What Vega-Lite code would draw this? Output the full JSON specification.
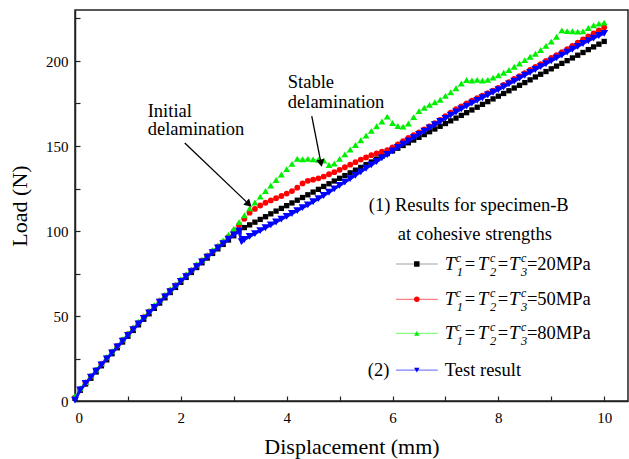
{
"$schema": "https://vega.github.io/schema/vega-lite/v6.json",
"width": 553, "height": 391,
"autosize": {"type": "none"},
"padding": {"left": 75, "top": 10, "right": 1, "bottom": 58},
"background": "white",
"config": {
 "view": {"stroke": "#222", "strokeWidth": 1.5},
 "font": "Liberation Serif, Times New Roman, DejaVu Serif, serif",
 "text": {"font": "Liberation Serif, Times New Roman, DejaVu Serif, serif"},
 "axis": {"domainColor": "#222", "domainWidth": 1.5, "tickColor": "#222", "tickWidth": 1.2, "tickSize": -5, "labelFont": "Liberation Serif, Times New Roman, DejaVu Serif, serif", "labelFontSize": 15, "labelColor": "#000", "titleFont": "Liberation Serif, Times New Roman, DejaVu Serif, serif", "titleFontSize": 22, "titleFontWeight": "normal", "titleColor": "#000", "grid": false}
},
"datasets": {
 "curves": [
  {"x":0,"a":1.5,"b":2,"c":3,"t":0.5},
  {"x":0.1,"a":6.3,"b":7.0,"c":7.5,"t":6.5},
  {"x":0.2,"a":10.0,"b":10.8,"c":11.2,"t":10.3},
  {"x":0.3,"a":13.4,"b":14.5,"c":14.9,"t":14.0},
  {"x":0.4,"a":17.1,"b":18.2,"c":18.6,"t":17.6},
  {"x":0.5,"a":20.7,"b":21.8,"c":22.2,"t":21.2},
  {"x":0.6,"a":24.2,"b":25.4,"c":25.8,"t":24.8},
  {"x":0.7,"a":27.8,"b":28.9,"c":29.4,"t":28.3},
  {"x":0.8,"a":31.3,"b":32.4,"c":32.9,"t":31.8},
  {"x":0.9,"a":34.7,"b":35.9,"c":36.3,"t":35.2},
  {"x":1.0,"a":38.1,"b":39.3,"c":39.8,"t":38.6},
  {"x":1.1,"a":41.5,"b":42.7,"c":43.2,"t":42.0},
  {"x":1.2,"a":44.8,"b":46.0,"c":46.6,"t":45.3},
  {"x":1.3,"a":48.1,"b":49.3,"c":49.9,"t":48.6},
  {"x":1.4,"a":51.3,"b":52.5,"c":53.1,"t":51.8},
  {"x":1.5,"a":54.5,"b":55.7,"c":56.3,"t":55.0},
  {"x":1.6,"a":57.6,"b":58.8,"c":59.4,"t":58.1},
  {"x":1.7,"a":60.7,"b":61.9,"c":62.5,"t":61.2},
  {"x":1.8,"a":63.8,"b":65.0,"c":65.6,"t":64.3},
  {"x":1.9,"a":66.8,"b":68.0,"c":68.6,"t":67.3},
  {"x":2.0,"a":69.8,"b":71.0,"c":71.6,"t":70.3},
  {"x":2.1,"a":72.7,"b":73.9,"c":74.5,"t":73.2},
  {"x":2.2,"a":75.6,"b":76.8,"c":77.4,"t":76.1},
  {"x":2.3,"a":78.5,"b":79.7,"c":80.3,"t":79.0},
  {"x":2.4,"a":81.3,"b":82.5,"c":83.1,"t":81.8},
  {"x":2.5,"a":84.1,"b":85.3,"c":85.9,"t":84.6},
  {"x":2.6,"a":86.8,"b":88.0,"c":88.7,"t":87.3},
  {"x":2.7,"a":89.5,"b":90.8,"c":91.5,"t":90.0},
  {"x":2.8,"a":92.1,"b":93.5,"c":94.5,"t":92.6},
  {"x":2.9,"a":94.7,"b":96.5,"c":97.8,"t":95.2},
  {"x":3.0,"a":97.2,"b":99.8,"c":101.3,"t":97.7},
  {"x":3.1,"a":99.7,"b":103.4,"c":105.2,"t":100.0},
  {"x":3.15,"t":93.7},
  {"x":3.2,"a":102.0,"b":107.2,"c":109.3,"t":95.0},
  {"x":3.3,"a":103.6,"b":110.8,"c":113.3,"t":96.8},
  {"x":3.4,"a":105.2,"b":113.0,"c":116.8,"t":98.5},
  {"x":3.5,"a":106.8,"b":115.0,"c":120.2,"t":100.2},
  {"x":3.6,"a":108.4,"b":116.6,"c":123.5,"t":101.9},
  {"x":3.7,"a":110.1,"b":118.0,"c":126.8,"t":103.6},
  {"x":3.8,"a":111.7,"b":119.3,"c":130.0,"t":105.3},
  {"x":3.9,"a":113.3,"b":120.6,"c":133.2,"t":107.0},
  {"x":4.0,"a":114.9,"b":122.0,"c":136.4,"t":108.6},
  {"x":4.1,"a":116.5,"b":123.5,"c":139.5,"t":110.3},
  {"x":4.2,"a":118.1,"b":125.5,"c":142.5,"t":112.0},
  {"x":4.3,"a":119.7,"b":128.0,"c":142.2,"t":113.7},
  {"x":4.4,"a":121.3,"b":129.5,"c":142.4,"t":115.4},
  {"x":4.5,"a":122.9,"b":130.2,"c":142.1,"t":117.2},
  {"x":4.6,"a":124.5,"b":131.0,"c":141.9,"t":119.0},
  {"x":4.7,"a":126.2,"b":132.0,"c":141.5,"t":120.9},
  {"x":4.8,"a":127.8,"b":133.4,"c":138.8,"t":122.8},
  {"x":4.9,"a":129.4,"b":134.6,"c":139.6,"t":124.8},
  {"x":5.0,"a":131.0,"b":136.0,"c":142.4,"t":126.8},
  {"x":5.1,"a":132.6,"b":137.5,"c":145.1,"t":128.8},
  {"x":5.2,"a":134.2,"b":139.0,"c":147.9,"t":130.8},
  {"x":5.3,"a":135.8,"b":140.5,"c":150.6,"t":132.8},
  {"x":5.4,"a":137.4,"b":142.0,"c":153.4,"t":134.8},
  {"x":5.5,"a":139.0,"b":143.3,"c":156.1,"t":136.9},
  {"x":5.6,"a":140.6,"b":144.6,"c":158.9,"t":138.9},
  {"x":5.7,"a":142.3,"b":145.6,"c":161.6,"t":140.9},
  {"x":5.8,"a":143.9,"b":146.6,"c":164.4,"t":143.0},
  {"x":5.9,"a":145.5,"b":147.6,"c":167.3,"t":145.0},
  {"x":6.0,"a":147.1,"b":149.2,"c":163.5,"t":147.1},
  {"x":6.1,"a":148.7,"b":151.0,"c":161.8,"t":149.1},
  {"x":6.2,"a":150.3,"b":152.9,"c":161.4,"t":151.1},
  {"x":6.3,"a":151.9,"b":154.7,"c":163.2,"t":153.0},
  {"x":6.4,"a":153.5,"b":156.4,"c":167.0,"t":154.9},
  {"x":6.5,"a":155.1,"b":158.0,"c":170.5,"t":156.8},
  {"x":6.6,"a":156.7,"b":159.7,"c":172.5,"t":158.7},
  {"x":6.7,"a":158.4,"b":161.5,"c":174.2,"t":160.6},
  {"x":6.8,"a":160.0,"b":163.4,"c":175.7,"t":162.5},
  {"x":6.9,"a":161.6,"b":165.4,"c":177.2,"t":164.4},
  {"x":7.0,"a":163.2,"b":167.5,"c":179.5,"t":166.3},
  {"x":7.1,"a":164.8,"b":169.6,"c":181.6,"t":168.2},
  {"x":7.2,"a":166.4,"b":171.6,"c":184.0,"t":170.0},
  {"x":7.3,"a":168.0,"b":173.3,"c":186.8,"t":171.8},
  {"x":7.4,"a":169.6,"b":175.0,"c":188.8,"t":173.5},
  {"x":7.5,"a":171.2,"b":176.6,"c":188.5,"t":175.2},
  {"x":7.6,"a":172.8,"b":178.1,"c":188.9,"t":176.8},
  {"x":7.7,"a":174.5,"b":179.6,"c":188.5,"t":178.4},
  {"x":7.8,"a":176.1,"b":181.1,"c":188.9,"t":180.0},
  {"x":7.9,"a":177.7,"b":182.6,"c":190.2,"t":181.6},
  {"x":8.0,"a":179.3,"b":184.2,"c":191.6,"t":183.2},
  {"x":8.1,"a":180.9,"b":185.9,"c":193.1,"t":184.8},
  {"x":8.2,"a":182.5,"b":187.6,"c":194.7,"t":186.5},
  {"x":8.3,"a":184.1,"b":189.4,"c":196.6,"t":188.2},
  {"x":8.4,"a":185.7,"b":191.1,"c":198.5,"t":189.9},
  {"x":8.5,"a":187.3,"b":192.9,"c":200.5,"t":191.6},
  {"x":8.6,"a":188.9,"b":194.7,"c":202.5,"t":193.3},
  {"x":8.7,"a":190.6,"b":196.5,"c":204.3,"t":195.0},
  {"x":8.8,"a":192.2,"b":198.2,"c":206.5,"t":196.7},
  {"x":8.9,"a":193.8,"b":200.0,"c":208.9,"t":198.4},
  {"x":9.0,"a":195.4,"b":201.8,"c":211.4,"t":200.1},
  {"x":9.1,"a":197.0,"b":203.5,"c":214.3,"t":201.8},
  {"x":9.2,"a":198.6,"b":205.2,"c":218.0,"t":203.5},
  {"x":9.3,"a":200.2,"b":207.0,"c":217.6,"t":205.2},
  {"x":9.4,"a":201.8,"b":208.9,"c":217.5,"t":206.9},
  {"x":9.5,"a":203.4,"b":210.8,"c":217.3,"t":208.6},
  {"x":9.6,"a":205.0,"b":212.7,"c":217.4,"t":210.3},
  {"x":9.7,"a":206.7,"b":214.5,"c":219.4,"t":211.9},
  {"x":9.8,"a":208.3,"b":216.3,"c":221.0,"t":213.5},
  {"x":9.9,"a":209.9,"b":218.0,"c":222.0,"t":215.0},
  {"x":10.0,"a":211.5,"b":219.8,"c":222.6,"t":216.3}
 ],
 "legendRows": [
  {"s":"a","x":6.068,"x2":6.856,"xm":6.459,"y":80.6},
  {"s":"b","x":6.068,"x2":6.856,"xm":6.459,"y":59.8},
  {"s":"c","x":6.068,"x2":6.856,"xm":6.459,"y":39.8},
  {"s":"t","x":6.068,"x2":6.856,"xm":6.459,"y":18.2}
 ],
 "plainText": [
  {"x":1.374,"y":167.2,"text":"Initial"},
  {"x":1.374,"y":156.5,"text":"delamination"},
  {"x":4.021,"y":183.9,"text":"Stable"},
  {"x":4.021,"y":172.5,"text":"delamination"},
  {"x":5.552,"y":111.8,"text":"(1) Results for specimen-B"},
  {"x":6.1,"y":94.7,"text":"at cohesive strengths"},
  {"x":7.367,"y":77.06,"text":"="},
  {"x":7.991,"y":77.06,"text":"="},
  {"x":8.540,"y":77.06,"text":"=20MPa"},
  {"x":7.367,"y":56.29,"text":"="},
  {"x":7.991,"y":56.29,"text":"="},
  {"x":8.540,"y":56.29,"text":"=50MPa"},
  {"x":7.367,"y":36.29,"text":"="},
  {"x":7.991,"y":36.29,"text":"="},
  {"x":8.540,"y":36.29,"text":"=80MPa"},
  {"x":5.533,"y":14.7,"text":"(2)"},
  {"x":6.988,"y":14.7,"text":"Test result"}
 ],
 "italicT": [
  {"x":6.988,"y":77.06,"text":"T"},{"x":7.613,"y":77.06,"text":"T"},{"x":8.199,"y":77.06,"text":"T"},
  {"x":6.988,"y":56.29,"text":"T"},{"x":7.613,"y":56.29,"text":"T"},{"x":8.199,"y":56.29,"text":"T"},
  {"x":6.988,"y":36.29,"text":"T"},{"x":7.613,"y":36.29,"text":"T"},{"x":8.199,"y":36.29,"text":"T"}
 ],
 "supC": [
  {"x":7.196,"y":81.76,"text":"c"},{"x":7.840,"y":81.76,"text":"c"},{"x":8.426,"y":81.76,"text":"c"},
  {"x":7.196,"y":61.0,"text":"c"},{"x":7.840,"y":61.0,"text":"c"},{"x":8.426,"y":61.0,"text":"c"},
  {"x":7.196,"y":41.0,"text":"c"},{"x":7.840,"y":41.0,"text":"c"},{"x":8.426,"y":41.0,"text":"c"}
 ],
 "subD": [
  {"x":7.215,"y":73.53,"text":"1"},{"x":7.840,"y":73.53,"text":"2"},{"x":8.426,"y":73.53,"text":"3"},
  {"x":7.215,"y":52.76,"text":"1"},{"x":7.840,"y":52.76,"text":"2"},{"x":8.426,"y":52.76,"text":"3"},
  {"x":7.215,"y":32.76,"text":"1"},{"x":7.840,"y":32.76,"text":"2"},{"x":8.426,"y":32.76,"text":"3"}
 ],
 "arrows": [
  {"x":2.074,"y":151.8,"x2":3.285,"y2":115.8},
  {"x":4.474,"y":167.6,"x2":4.649,"y2":139.9}
 ],
 "head1": [{"x":3.285,"y":115.8}],
 "head2": [{"x":4.649,"y":139.9}]
},
"layer": [
 {
  "data": {"name": "curves"},
  "transform": [{"fold": ["a","b","c"], "as": ["s","y"]}, {"filter": "isValid(datum.y)"}],
  "mark": {"type": "line", "strokeWidth": 1},
  "encoding": {
   "x": {"field": "x", "type": "quantitative", "scale": {"domain": [0, 10.45], "nice": false, "zero": false},
         "axis": {"title": "Displacement (mm)", "values": [0,1,2,3,4,5,6,7,8,9,10], "labelExpr": "datum.value % 2 === 0 ? datum.label : ''", "labelPadding": 14, "titlePadding": 11}},
   "y": {"field": "y", "type": "quantitative", "scale": {"domain": [0, 230], "nice": false},
         "axis": {"title": "Load (N)", "values": [0,25,50,75,100,125,150,175,200,225], "labelExpr": "datum.value % 50 === 0 ? datum.label : ''", "labelPadding": 12, "titlePadding": 14}},
   "color": {"field": "s", "type": "nominal", "legend": null, "scale": {"domain": ["a","b","c"], "range": ["#a0a0a0","#ff8080","#80ff80"]}}
  }
 },
 {
  "data": {"name": "curves"},
  "transform": [{"fold": ["a"], "as": ["s","y"]}, {"filter": "isValid(datum.y)"}],
  "mark": {"type": "point", "shape": "square", "filled": true, "color": "#000000", "opacity": 1, "strokeWidth": 0, "size": 28},
  "encoding": {"x": {"field": "x", "type": "quantitative"}, "y": {"field": "y", "type": "quantitative"}}
 },
 {
  "data": {"name": "curves"},
  "transform": [{"fold": ["b"], "as": ["s","y"]}, {"filter": "isValid(datum.y)"}],
  "mark": {"type": "point", "shape": "circle", "filled": true, "color": "#ff0000", "opacity": 1, "strokeWidth": 0, "size": 34},
  "encoding": {"x": {"field": "x", "type": "quantitative"}, "y": {"field": "y", "type": "quantitative"}}
 },
 {
  "data": {"name": "curves"},
  "transform": [{"fold": ["c"], "as": ["s","y"]}, {"filter": "isValid(datum.y)"}],
  "mark": {"type": "point", "shape": "triangle-up", "filled": true, "color": "#00ee00", "opacity": 1, "strokeWidth": 0, "size": 46},
  "encoding": {"x": {"field": "x", "type": "quantitative"}, "y": {"field": "y", "type": "quantitative"}}
 },
 {
  "data": {"name": "curves"},
  "transform": [{"fold": ["t"], "as": ["s","y"]}, {"filter": "isValid(datum.y)"}],
  "mark": {"type": "line", "color": "#1010ff", "strokeWidth": 3},
  "encoding": {"x": {"field": "x", "type": "quantitative"}, "y": {"field": "y", "type": "quantitative"}}
 },
 {
  "data": {"name": "curves"},
  "transform": [{"fold": ["t"], "as": ["s","y"]}, {"filter": "isValid(datum.y)"}],
  "mark": {"type": "point", "shape": "triangle-down", "filled": true, "color": "#0000ff", "opacity": 1, "strokeWidth": 0, "size": 62},
  "encoding": {"x": {"field": "x", "type": "quantitative"}, "y": {"field": "y", "type": "quantitative"}}
 },
 {
  "data": {"name": "legendRows"},
  "mark": {"type": "rule", "strokeWidth": 1.2},
  "encoding": {
   "x": {"field": "x", "type": "quantitative"},
   "x2": {"field": "x2"},
   "y": {"field": "y", "type": "quantitative"},
   "stroke": {"field": "s", "type": "nominal", "legend": null, "scale": {"domain": ["a","b","c","t"], "range": ["#a0a0a0","#ff8080","#80ff80","#8080ff"]}}
  }
 },
 {
  "data": {"name": "legendRows"},
  "mark": {"type": "point", "filled": true, "opacity": 1, "strokeWidth": 0, "size": 30},
  "encoding": {
   "x": {"field": "xm", "type": "quantitative"},
   "y": {"field": "y", "type": "quantitative"},
   "shape": {"field": "s", "type": "nominal", "legend": null, "scale": {"domain": ["a","b","c","t"], "range": ["square","circle","triangle-up","triangle-down"]}},
   "fill": {"field": "s", "type": "nominal", "legend": null, "scale": {"domain": ["a","b","c","t"], "range": ["#000000","#ff0000","#00ee00","#0000ff"]}}
  }
 },
 {
  "data": {"name": "arrows"},
  "mark": {"type": "rule", "color": "#000", "strokeWidth": 1.3},
  "encoding": {
   "x": {"field": "x", "type": "quantitative"},
   "y": {"field": "y", "type": "quantitative"},
   "x2": {"field": "x2"},
   "y2": {"field": "y2"}
  }
 },
 {
  "data": {"name": "head1"},
  "mark": {"type": "point", "shape": "triangle-up", "filled": true, "color": "#000", "opacity": 1, "size": 70, "angle": 133.7},
  "encoding": {"x": {"field": "x", "type": "quantitative"}, "y": {"field": "y", "type": "quantitative"}}
 },
 {
  "data": {"name": "head2"},
  "mark": {"type": "point", "shape": "triangle-up", "filled": true, "color": "#000", "opacity": 1, "size": 70, "angle": 168.7},
  "encoding": {"x": {"field": "x", "type": "quantitative"}, "y": {"field": "y", "type": "quantitative"}}
 },
 {
  "data": {"name": "plainText"},
  "mark": {"type": "text", "align": "left", "baseline": "alphabetic", "font": "Liberation Serif, Times New Roman, DejaVu Serif, serif", "fontSize": 18.5, "color": "#000"},
  "encoding": {"x": {"field": "x", "type": "quantitative"}, "y": {"field": "y", "type": "quantitative"}, "text": {"field": "text"}}
 },
 {
  "data": {"name": "italicT"},
  "mark": {"type": "text", "align": "left", "baseline": "alphabetic", "font": "Liberation Serif, Times New Roman, DejaVu Serif, serif", "fontStyle": "italic", "fontSize": 19, "color": "#000"},
  "encoding": {"x": {"field": "x", "type": "quantitative"}, "y": {"field": "y", "type": "quantitative"}, "text": {"field": "text"}}
 },
 {
  "data": {"name": "supC"},
  "mark": {"type": "text", "align": "left", "baseline": "alphabetic", "font": "Liberation Serif, Times New Roman, DejaVu Serif, serif", "fontStyle": "italic", "fontSize": 12, "color": "#000"},
  "encoding": {"x": {"field": "x", "type": "quantitative"}, "y": {"field": "y", "type": "quantitative"}, "text": {"field": "text"}}
 },
 {
  "data": {"name": "subD"},
  "mark": {"type": "text", "align": "left", "baseline": "alphabetic", "font": "Liberation Serif, Times New Roman, DejaVu Serif, serif", "fontStyle": "italic", "fontSize": 12.5, "color": "#000"},
  "encoding": {"x": {"field": "x", "type": "quantitative"}, "y": {"field": "y", "type": "quantitative"}, "text": {"field": "text"}}
 }
]
}
